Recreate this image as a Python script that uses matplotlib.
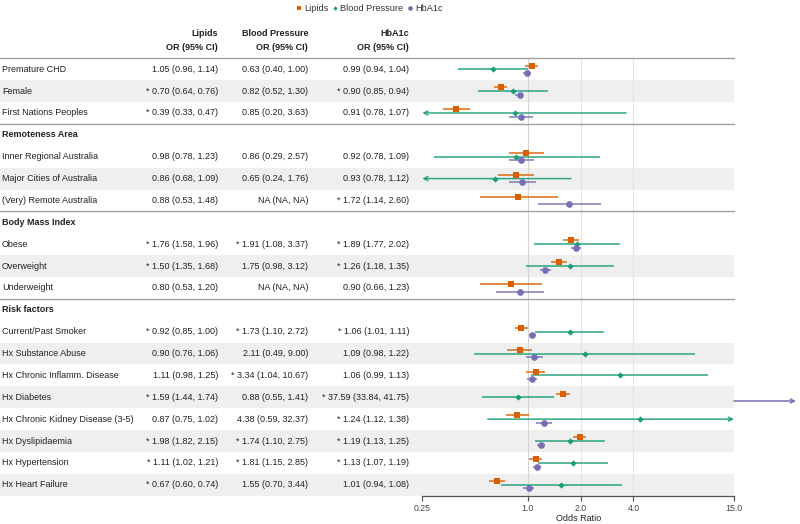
import numpy as np
import matplotlib
matplotlib.use("Agg")
import matplotlib.pyplot as plt
from matplotlib.lines import Line2D
from matplotlib.patches import Rectangle
from matplotlib.transforms import blended_transform_factory

plt.rcParams['font.family'] = ['Liberation Sans', 'DejaVu Sans']

# rows of the table: None marks a group header row
labels = ["Premature CHD", "Female", "First Nations Peoples",
          "Remoteness Area", "Inner Regional Australia", "Major Cities of Australia",
          "(Very) Remote Australia",
          "Body Mass Index", "Obese", "Overweight", "Underweight",
          "Risk factors", "Current/Past Smoker", "Hx Substance Abuse",
          "Hx Chronic Inflamm. Disease", "Hx Diabetes", "Hx Chronic Kidney Disease (3-5)",
          "Hx Dyslipidaemia", "Hx Hypertension", "Hx Heart Failure"]
is_header = [False, False, False, True, False, False, False, True, False, False, False,
             True, False, False, False, False, False, False, False, False]

nan = np.nan
lip_or = [1.05, 0.70, 0.39, nan, 0.98, 0.86, 0.88, nan, 1.76, 1.50, 0.80,
          nan, 0.92, 0.90, 1.11, 1.59, 0.87, 1.98, 1.11, 0.67]
lip_lo = [0.96, 0.64, 0.33, nan, 0.78, 0.68, 0.53, nan, 1.58, 1.35, 0.53,
          nan, 0.85, 0.76, 0.98, 1.44, 0.75, 1.82, 1.02, 0.60]
lip_hi = [1.14, 0.76, 0.47, nan, 1.23, 1.09, 1.48, nan, 1.96, 1.68, 1.20,
          nan, 1.00, 1.06, 1.25, 1.74, 1.02, 2.15, 1.21, 0.74]
lip_sig = [0, 1, 1, 0, 0, 0, 0, 0, 1, 1, 0, 0, 1, 0, 0, 1, 0, 1, 1, 1]

bp_or = [0.63, 0.82, 0.85, nan, 0.86, 0.65, nan, nan, 1.91, 1.75, nan,
         nan, 1.73, 2.11, 3.34, 0.88, 4.38, 1.74, 1.81, 1.55]
bp_lo = [0.40, 0.52, 0.20, nan, 0.29, 0.24, nan, nan, 1.08, 0.98, nan,
         nan, 1.10, 0.49, 1.04, 0.55, 0.59, 1.10, 1.15, 0.70]
bp_hi = [1.00, 1.30, 3.63, nan, 2.57, 1.76, nan, nan, 3.37, 3.12, nan,
         nan, 2.72, 9.00, 10.67, 1.41, 32.37, 2.75, 2.85, 3.44]
bp_sig = [0, 0, 0, 0, 0, 0, 0, 0, 1, 0, 0, 0, 1, 0, 1, 0, 0, 1, 1, 0]

hb_or = [0.99, 0.90, 0.91, nan, 0.92, 0.93, 1.72, nan, 1.89, 1.26, 0.90,
         nan, 1.06, 1.09, 1.06, 37.59, 1.24, 1.19, 1.13, 1.01]
hb_lo = [0.94, 0.85, 0.78, nan, 0.78, 0.78, 1.14, nan, 1.77, 1.18, 0.66,
         nan, 1.01, 0.98, 0.99, 33.84, 1.12, 1.13, 1.07, 0.94]
hb_hi = [1.04, 0.94, 1.07, nan, 1.09, 1.12, 2.60, nan, 2.02, 1.35, 1.23,
         nan, 1.11, 1.22, 1.13, 41.75, 1.38, 1.25, 1.19, 1.08]
hb_sig = [0, 1, 0, 0, 0, 0, 1, 0, 1, 1, 0, 0, 1, 0, 0, 1, 1, 1, 1, 0]

series = [
    ("Lipids", lip_or, lip_lo, lip_hi, lip_sig, "#d95f02", "s", 4.6, -0.17),
    ("Blood Pressure", bp_or, bp_lo, bp_hi, bp_sig, "#1b9e77", "D", 3.2, 0.0),
    ("HbA1c", hb_or, hb_lo, hb_hi, hb_sig, "#7570b3", "o", 4.8, 0.17),
]
col_right = [218, 308, 409]  # right edge of text columns, pixels

XMIN, XMAX = 0.25, 15.0
W, H = 800, 524
FS = 6.5
fig = plt.figure(figsize=(8, 5.24), dpi=100)
ax = fig.add_axes([422.3 / W, 1 - 495.7 / H, (734 - 422.3) / W, (495.7 - 58.3) / H])
ax.set_xscale("log", base=2)
ax.set_xlim(XMIN, XMAX)
ax.set_ylim(len(labels) - 0.5, -0.5)

tr = blended_transform_factory(fig.transFigure, ax.transData)
txt_color = "#222222"

# shaded bands (every second item inside a group)
k = 0
for i, hdr in enumerate(is_header):
    if hdr:
        k = 0
        continue
    if k % 2 == 1:
        ax.add_patch(Rectangle((0, i - 0.5), 734 / W, 1, transform=tr,
                               facecolor="#efefef", edgecolor="none",
                               clip_on=False, zorder=0))
    k += 1

# separators
for yy in [-0.5, 2.5, 6.5, 10.5]:
    ax.add_line(Line2D([0, 734 / W], [yy, yy], transform=tr, color="#a0a0a0",
                       lw=1.0, clip_on=False, zorder=1))

# gridlines
for gx, gc in [(1.0, "#d4d4d4"), (2.0, "#e4e4e4"), (4.0, "#e4e4e4")]:
    ax.axvline(gx, color=gc, lw=0.8, zorder=0.5)

# table text
for i, lab in enumerate(labels):
    ax.text(2 / W, i, lab, transform=tr, ha="left", va="center", fontsize=FS,
            color=txt_color, fontweight="bold" if is_header[i] else "normal")
    if is_header[i]:
        continue
    for (name, o, lo, hi, sig, *_), xr in zip(series, col_right):
        if np.isnan(o[i]):
            s = "NA (NA, NA)"
        else:
            s = f"{o[i]:.2f} ({lo[i]:.2f}, {hi[i]:.2f})"
            if sig[i]:
                s = "* " + s
        ax.text(xr / W, i, s, transform=tr, ha="right", va="center",
                fontsize=FS, color=txt_color)

# column headers
for (name, *_), xr in zip(series, col_right):
    fig.text(xr / W, 1 - 34 / H, name, ha="right", va="center", fontsize=FS,
             fontweight="bold", color=txt_color)
    fig.text(xr / W, 1 - 47 / H, "OR (95% CI)", ha="right", va="center",
             fontsize=FS, fontweight="bold", color=txt_color)

# forest marks
for name, o, lo, hi, sig, col, mk, ms, dy in series:
    for i in range(len(labels)):
        if np.isnan(o[i]):
            continue
        y = i + dy
        a, b = lo[i], hi[i]
        if a >= XMAX:
            # whole interval beyond the axis: arrow out to the right
            ax.annotate("", xy=(a, y), xytext=(XMAX, y),
                        arrowprops=dict(arrowstyle="->", color=col, lw=1.1,
                                        shrinkA=0, shrinkB=0, mutation_scale=7),
                        annotation_clip=False, zorder=2)
            continue
        left, right = max(a, XMIN), min(b, XMAX)
        if a < XMIN or b > XMAX:
            style = "<->" if (a < XMIN and b > XMAX) else ("<-" if a < XMIN else "->")
            ax.annotate("", xy=(right, y), xytext=(left, y),
                        arrowprops=dict(arrowstyle=style, color=col, lw=1.1,
                                        shrinkA=0, shrinkB=0, mutation_scale=7,
                                        alpha=0.9),
                        annotation_clip=False, zorder=2)
        else:
            ax.plot([left, right], [y, y], color=col, lw=1.2, alpha=0.85,
                    solid_capstyle="butt", zorder=2)
        ax.plot([o[i]], [y], marker=mk, color=col, ms=ms, mew=0,
                linestyle="none", zorder=3)

# axis styling
for sp in ["top", "left", "right"]:
    ax.spines[sp].set_visible(False)
ax.spines["bottom"].set_color("#555555")
ax.spines["bottom"].set_linewidth(0.9)
ax.set_yticks([])
ticks = [0.25, 1.0, 2.0, 4.0, 15.0]
ax.set_xticks(ticks)
ax.set_xticklabels(["0.25", "1.0", "2.0", "4.0", "15.0"])
ax.xaxis.set_minor_locator(matplotlib.ticker.NullLocator())
ax.tick_params(axis="x", length=3.5, width=0.9, color="#555555",
               labelsize=6.3, labelcolor="#444444", pad=2.5)
ax.set_xlabel("Odds Ratio", fontsize=FS, color="#222222", labelpad=0.5)

# legend
handles = [Line2D([], [], marker=mk, color=col, ms=ms * 0.7, mew=0, linestyle="none",
                  label=name)
           for name, o, lo, hi, sig, col, mk, ms, dy in series]
fig.legend(handles=handles, loc="upper center", bbox_to_anchor=(369 / W, 1.008),
           ncol=3, frameon=False, fontsize=6.6, handletextpad=0.1,
           columnspacing=0.4, handlelength=0.8, labelcolor="#333333")

fig.savefig("out.png", dpi=100)
